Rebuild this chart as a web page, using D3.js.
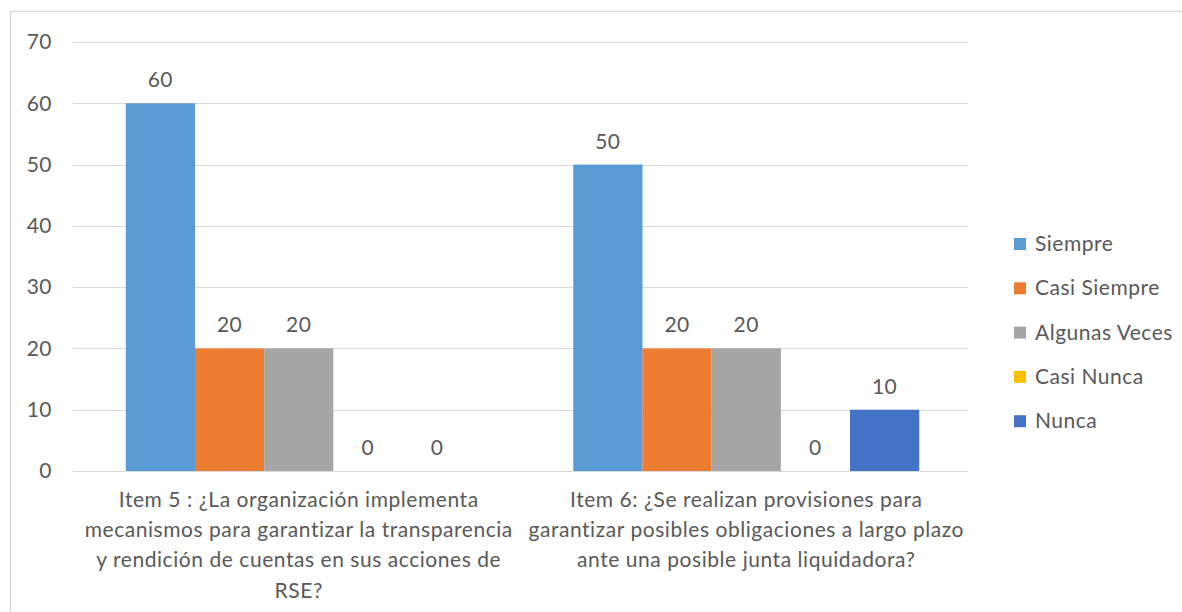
<!DOCTYPE html>
<html><head><meta charset="utf-8">
<script src="https://cdn.jsdelivr.net/npm/d3@7"></script>
<style>body{margin:0;background:#fff;}svg{display:block;font-family:Lato, "Open Sans", sans-serif;}</style>
</head><body>
<svg id="c" width="1182" height="612"></svg>
<script>
const categories = [
  ["Item 5 : ¿La organización implementa","mecanismos para garantizar la transparencia","y rendición de cuentas en sus acciones de","RSE?"],
  ["Item 6: ¿Se realizan provisiones para","garantizar posibles obligaciones a largo plazo","ante una posible junta liquidadora?"]
];
const seriesNames = ["Siempre","Casi Siempre","Algunas Veces","Casi Nunca","Nunca"];
const seriesColors = ["#5B9BD5","#ED7D31","#A5A5A5","#FFC000","#4472C4"];
const siempre = [60, 50];
const casiSiempre = [20, 20];
const algunasVeces = [20, 20];
const casiNunca = [0, 0];
const nunca = [0, 10];
const yTicks = [0,10,20,30,40,50,60,70];

const values = [siempre, casiSiempre, algunasVeces, casiNunca, nunca];
const svg = d3.select("#c");
const textColor = "#595959";

svg.append("rect").attr("x",10.5).attr("y",11.5).attr("width",1200).attr("height",700)
  .attr("fill","#fff").attr("stroke","#d9d9d9").attr("stroke-width",1.5);

const x0 = d3.scaleBand().domain([0,1]).range([75,970]).paddingInner(0.227).paddingOuter(0.1135);
const x1 = d3.scaleBand().domain(d3.range(seriesNames.length)).range([0, x0.bandwidth()]);
const y = d3.scaleLinear().domain([0,70]).range([471,42]);

// gridlines
svg.append("g").selectAll("line").data(yTicks).join("line")
  .attr("x1",73).attr("x2",968).attr("y1",d=>Math.round(y(d))+0.5).attr("y2",d=>Math.round(y(d))+0.5)
  .attr("stroke","#d9d9d9").attr("stroke-width",1);

// y axis labels
const yAxis = d3.axisLeft(y).tickValues(yTicks).tickSize(0).tickPadding(0);
const ya = svg.append("g").attr("transform","translate(52,0)").call(yAxis);
ya.select(".domain").remove();
ya.selectAll("text").attr("fill",textColor).style("font-size","21px").style("font-family","Lato").style("letter-spacing","0.5px");

// bars
values.forEach((vals, si) => {
  const g = svg.append("g");
  g.selectAll("rect").data(vals).join("rect")
    .attr("x",(d,i)=>x0(i)+x1(si))
    .attr("width",x1.bandwidth())
    .attr("y",d=>y(d))
    .attr("height",d=>y(0)-y(d))
    .attr("fill",seriesColors[si]);
  g.selectAll("text").data(vals).join("text")
    .attr("x",(d,i)=>x0(i)+x1(si)+x1.bandwidth()/2)
    .attr("y",d=>y(d)-16)
    .attr("text-anchor","middle")
    .attr("fill",textColor).style("font-size","21px").style("letter-spacing","0.5px")
    .text(d=>d);
});

// x axis line
svg.append("line").attr("x1",73).attr("x2",968).attr("y1",471.5).attr("y2",471.5).attr("stroke","#d9d9d9");

// category labels
categories.forEach((lines,i) => {
  const t = svg.append("text").attr("text-anchor","middle").attr("fill",textColor)
    .style("font-size","21px").style("letter-spacing","0.55px");
  lines.forEach((ln,j) => {
    t.append("tspan").attr("x",x0(i)+x0.bandwidth()/2).attr("y",507+j*30.2).text(ln);
  });
});

// legend
const lg = svg.append("g");
seriesNames.forEach((n,i) => {
  const cy = 244 + i*44.3;
  lg.append("rect").attr("x",1014).attr("y",cy-6).attr("width",12).attr("height",12).attr("fill",seriesColors[i]);
  lg.append("text").attr("x",1035).attr("y",cy+7).attr("fill",textColor)
    .style("font-size","21px").style("letter-spacing","0.5px").text(n);
});
</script>
</body></html>
